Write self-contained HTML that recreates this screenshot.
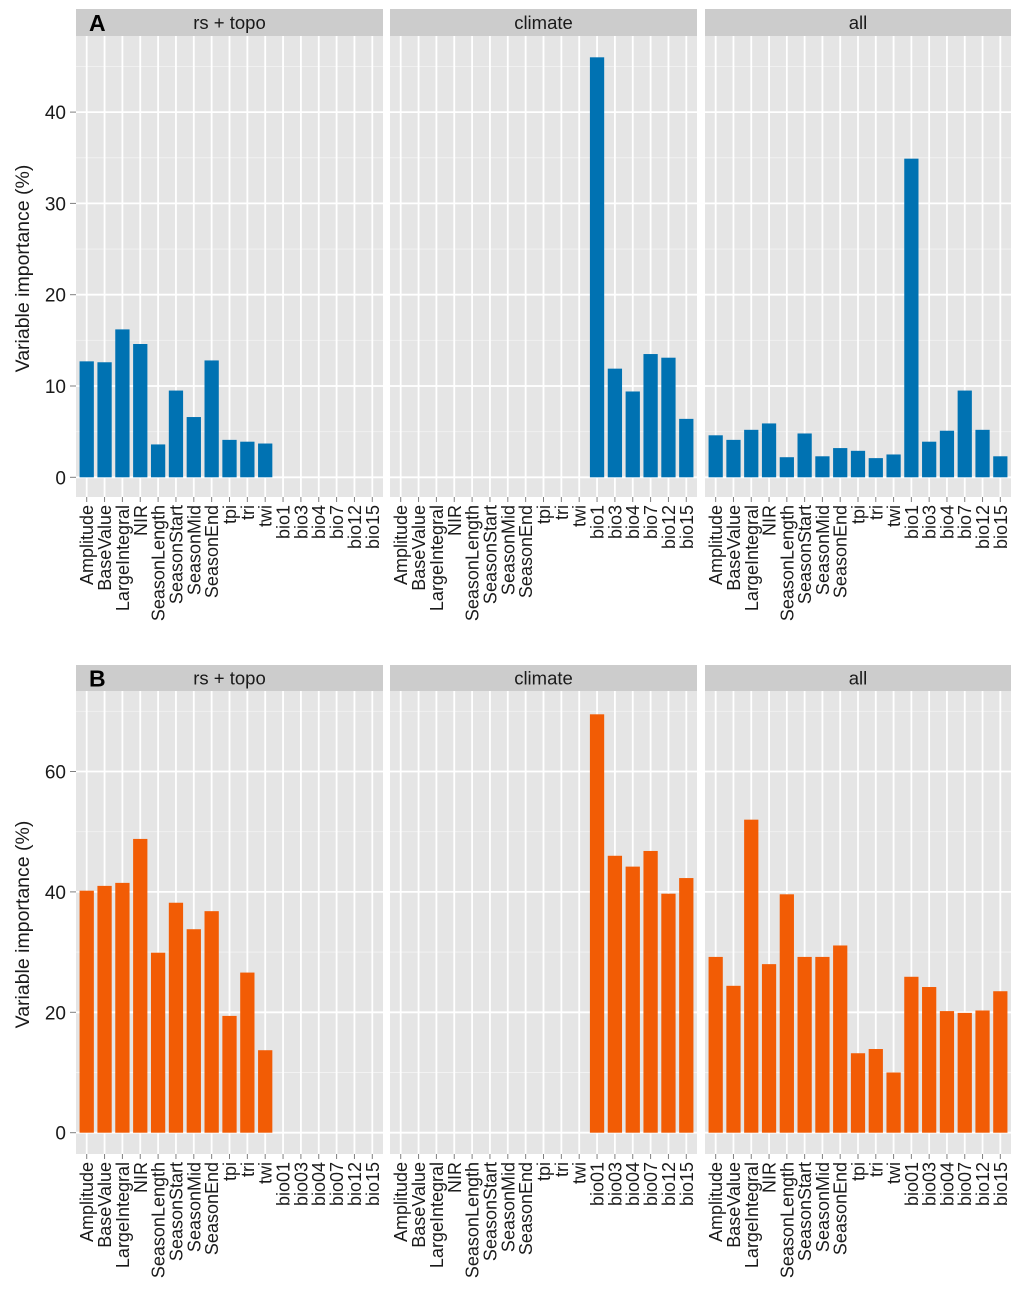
<!DOCTYPE html>
<html><head><meta charset="utf-8"><style>
html,body{margin:0;padding:0;background:#fff;}
svg text{font-family:"Liberation Sans",Arial,sans-serif;}
</style></head><body>
<svg id="chart" width="1024" height="1301" xmlns="http://www.w3.org/2000/svg"></svg>
<script>
const catsA = ["Amplitude","BaseValue","LargeIntegral","NIR","SeasonLength","SeasonStart","SeasonMid","SeasonEnd","tpi","tri","twi","bio1","bio3","bio4","bio7","bio12","bio15"];
const catsB = ["Amplitude","BaseValue","LargeIntegral","NIR","SeasonLength","SeasonStart","SeasonMid","SeasonEnd","tpi","tri","twi","bio01","bio03","bio04","bio07","bio12","bio15"];
const facets = ["rs + topo","climate","all"];
const aTopo = [12.7,12.6,16.2,14.6,3.6,9.5,6.6,12.8,4.1,3.9,3.7,0,0,0,0,0,0];
const aClim = [0,0,0,0,0,0,0,0,0,0,0,46,11.9,9.4,13.5,13.1,6.4];
const aAll  = [4.6,4.1,5.2,5.9,2.2,4.8,2.3,3.2,2.9,2.1,2.5,34.9,3.9,5.1,9.5,5.2,2.3];
const bTopo = [40.2,41.0,41.5,48.8,29.9,38.2,33.8,36.8,19.4,26.6,13.7,0,0,0,0,0,0];
const bClim = [0,0,0,0,0,0,0,0,0,0,0,69.5,46.0,44.2,46.8,39.7,42.3];
const bAll  = [29.2,24.4,52.0,28.0,39.6,29.2,29.2,31.1,13.2,13.9,10.0,25.9,24.2,20.2,19.9,20.3,23.5];
const ticksA = [0,10,20,30,40];
const ticksB = [0,20,40,60];

const NS="http://www.w3.org/2000/svg";
const svg=document.getElementById('chart');
function mk(tag,attrs,parent){const e=document.createElementNS(NS,tag);for(const k in attrs)e.setAttribute(k,attrs[k]);(parent||svg).appendChild(e);return e;}
const panelX=[[76,383],[390,697],[705,1011]];

function drawRow(cfg){
  const {label,cats,series,ticks,minorStep,top,stripH,plotBottom,zeroY,unitPx,color,key}=cfg;
  const y=v=>zeroY-v*unitPx;
  const plotTop=top+stripH;
  const ymaxVal=(zeroY-plotTop)/unitPx, yminVal=(zeroY-plotBottom)/unitPx;
  panelX.forEach((px,pi)=>{
    const [x0,x1]=px, w=x1-x0, step=w/(cats.length+0.2);
    const xc=i=>x0+(i+0.6)*step;
    const g=mk('g',{});
    
    
    const strip=mk('rect',{x:x0,y:top,width:w,height:stripH,fill:'#cccccc'},g);
    
    
    const st=mk('text',{x:(x0+x1)/2,y:top+stripH/2+6.5,'text-anchor':'middle','font-size':18.5,fill:'#1a1a1a'},g);
    st.textContent=facets[pi];
    
    
    const bg=mk('rect',{x:x0,y:plotTop,width:w,height:plotBottom-plotTop,fill:'#e5e5e5'},g);
    
    
    for(let v=Math.ceil(yminVal/minorStep)*minorStep; v<=ymaxVal; v+=minorStep){
      const major=ticks.includes(v);
      mk('line',{x1:x0,x2:x1,y1:y(v),y2:y(v),stroke:major?'#ffffff':'#f2f2f2','stroke-width':major?1.8:0.9},g);
    }
    cats.forEach((c,i)=>mk('line',{x1:xc(i),x2:xc(i),y1:plotTop,y2:plotBottom,stroke:'#ffffff','stroke-width':1.8},g));
    const vals=series[pi];
    vals.forEach((v,i)=>{
      if(v<=0) return;
      const r=mk('rect',{x:xc(i)-step*0.4,y:y(v),width:step*0.8,height:y(0)-y(v),fill:color},g);
      
      
    });
    cats.forEach((c,i)=>{
      mk('line',{x1:xc(i),x2:xc(i),y1:plotBottom,y2:plotBottom+5,stroke:'#7f7f7f','stroke-width':1},g);
      const t=mk('text',{x:0,y:0,'text-anchor':'end','font-size':18,fill:'#1a1a1a',transform:`translate(${xc(i)+6.5},${plotBottom+8}) rotate(-90)`},g);
      t.textContent=c;
      
      
    });
  });
  ticks.forEach(v=>{
    mk('line',{x1:70,x2:76,y1:y(v),y2:y(v),stroke:'#7f7f7f','stroke-width':1});
    const t=mk('text',{x:66,y:y(v)+7,'text-anchor':'end','font-size':19,fill:'#1a1a1a'});
    t.textContent=v;
    
    
  });
  const yt=mk('text',{x:0,y:0,'text-anchor':'middle','font-size':19.5,fill:'#1a1a1a',transform:`translate(29,${(plotTop+plotBottom)/2+2}) rotate(-90)`});
  yt.textContent='Variable importance (%)';
  
  
  const lt=mk('text',{x:89,y:top+stripH/2+8.5,'font-size':23,'font-weight':'bold',fill:'#000'});
  lt.textContent=label;
  
  
}
drawRow({label:'A',key:'a',cats:catsA,series:[aTopo,aClim,aAll],ticks:ticksA,minorStep:5,top:9,stripH:27,plotBottom:497,zeroY:477.3,unitPx:9.13,color:'#0072b2'});
drawRow({label:'B',key:'b',cats:catsB,series:[bTopo,bClim,bAll],ticks:ticksB,minorStep:10,top:665,stripH:26,plotBottom:1154,zeroY:1132.7,unitPx:6.02,color:'#f25c05'});
</script>
</body></html>
